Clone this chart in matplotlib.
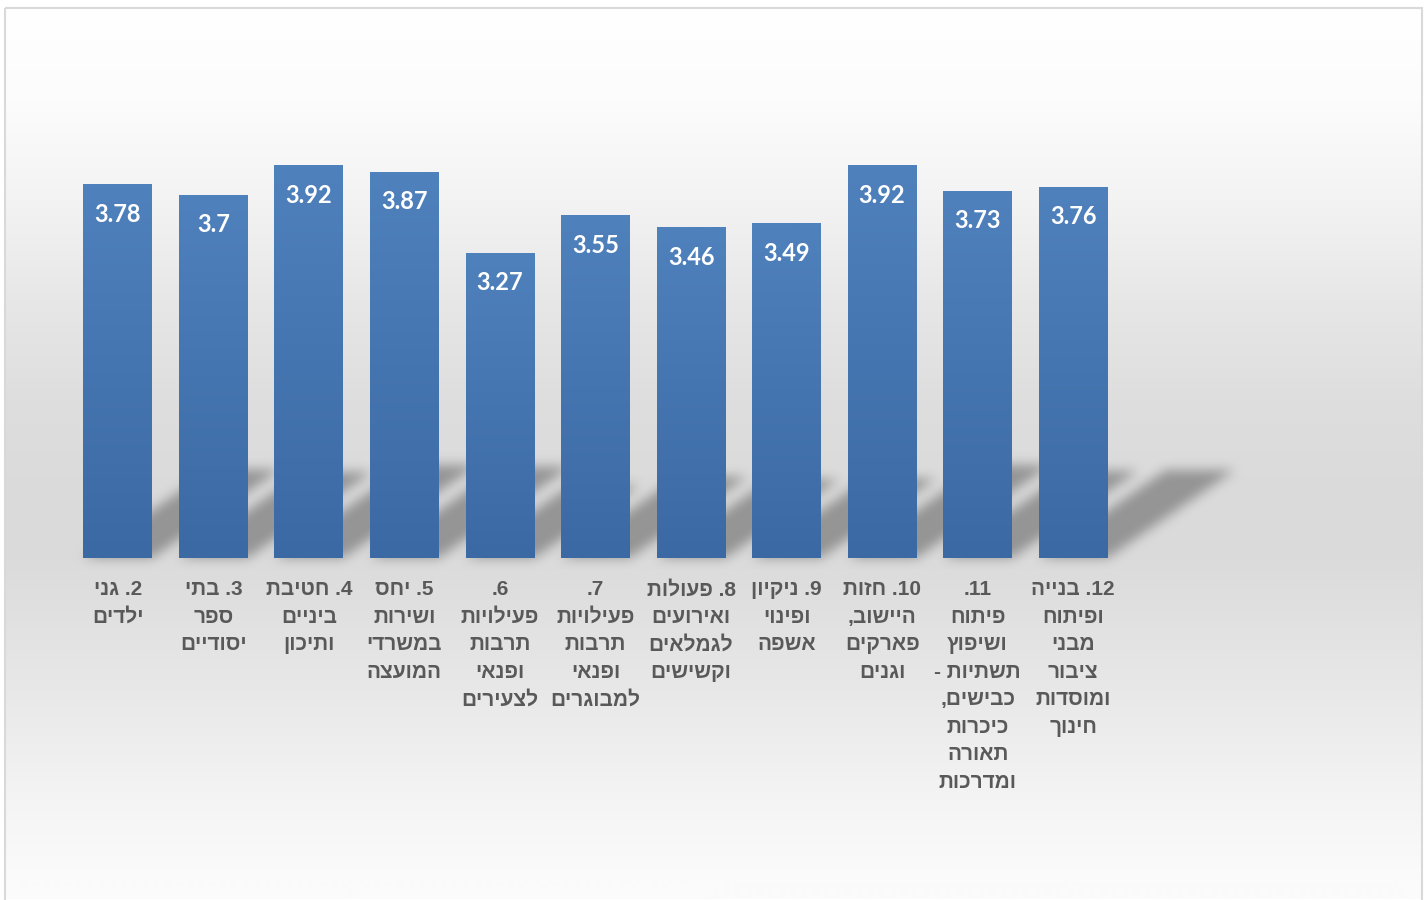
import re
import numpy as np
import matplotlib
matplotlib.use("Agg")
import matplotlib.pyplot as plt
from matplotlib.patches import Polygon, Rectangle
from matplotlib.collections import PatchCollection

# data
categories = [
    "2. גני\nילדים",
    "3. בתי\nספר\nיסודיים",
    "4. חטיבת\nביניים\nותיכון",
    "5. יחס\nושירות\nבמשרדי\nהמועצה",
    "6.\nפעילויות\nתרבות\nופנאי\nלצעירים",
    "7.\nפעילויות\nתרבות\nופנאי\nלמבוגרים",
    "8. פעולות\nואירועים\nלגמלאים\nוקשישים",
    "9. ניקיון\nופינוי\nאשפה",
    "10. חזות\nהיישוב,\nפארקים\nוגנים",
    "11.\nפיתוח\nושיפוץ\nתשתיות -\nכבישים,\nכיכרות\nתאורה\nומדרכות",
    "12. בנייה\nופיתוח\nמבני\nציבור\nומוסדות\nחינוך",
]
values = [3.78, 3.7, 3.92, 3.87, 3.27, 3.55, 3.46, 3.49, 3.92, 3.73, 3.76]

W, H = 1427, 900
HEB = ["Liberation Sans", "DejaVu Sans"]


def visual(line):
    # matplotlib has no bidi: flip the line, keep numbers readable
    return re.sub(r"\d+", lambda m: m.group(0)[::-1], line[::-1])


def blur_alpha(im, dpi):
    pad = 18
    a = np.pad(im, [(pad, pad), (pad, pad), (0, 0)], "constant")
    alpha = a[:, :, 3]
    k = 11
    for _ in range(3):
        c = np.cumsum(np.pad(alpha, [(k // 2 + 1, k // 2), (0, 0)], "edge"), axis=0)
        alpha = (c[k:] - c[:-k]) / k
        c = np.cumsum(np.pad(alpha, [(0, 0), (k // 2 + 1, k // 2)], "edge"), axis=1)
        alpha = (c[:, k:] - c[:, :-k]) / k
    out = np.zeros_like(a)
    out[:, :, 0:3] = 0.40
    out[:, :, 3] = alpha * 0.6
    return out, -pad, -pad


fig = plt.figure(figsize=(W / 100, H / 100), dpi=100)

# background gradient and frame
bg = fig.add_axes([0, 0, 1, 1], zorder=-10)
bg.set_xlim(0, W)
bg.set_ylim(H, 0)
bg.axis("off")
ys = np.arange(8, 900)
lv = np.interp(ys, [8, 100, 200, 300, 400, 500, 560, 600, 700, 800, 880],
               [255, 252, 243, 231, 222, 218, 219, 223, 233, 244, 251]) / 255
grad = np.repeat(lv[:, None], 3, axis=1)[:, None, :]
bg.imshow(grad, extent=(5, 1422, 899, 8), aspect="auto", interpolation="bilinear")
bg.add_patch(Rectangle((5, 8), 1417, 895, fill=False, edgecolor="#d9d9d9", lw=1.5))

ax = fig.add_axes([70 / W, 1 - 558 / H, (1121 - 70) / W, (558 - 20) / H])
ax.patch.set_alpha(0)
ax.axis("off")

x = np.arange(len(values))
bw = 0.72
bars = ax.bar(x, values, width=bw, color="#4a7ab5", zorder=3)

# bar gradients
bar_grad = np.linspace(0, 1, 64)[:, None]
top_c = np.array([79, 129, 189]) / 255
bot_c = np.array([59, 105, 163]) / 255
bar_img = (top_c + (bot_c - top_c) * bar_grad)[:, None, :]
for xi, v, b in zip(x, values, bars):
    im = ax.imshow(bar_img, extent=(xi - bw / 2, xi + bw / 2, 1, v),
                   aspect="auto", zorder=3.1, interpolation="bilinear")
    im.set_clip_path(b)

# perspective shadows
shadows = []
for xi, v in zip(x, values):
    h = v - 1
    dx = 0.482 * h
    dy = 0.237 * h
    shadows.append(Polygon([(xi - bw / 2, 1), (xi + bw / 2, 1),
                            (xi + bw / 2 + dx, 1 + dy), (xi - bw / 2 + dx, 1 + dy)]))
pc = PatchCollection(shadows, facecolor="#6b6b6b", edgecolor="none", zorder=2)
pc.set_clip_on(False)
pc.set_agg_filter(blur_alpha)
pc.set_rasterized(True)
ax.add_collection(pc)

# value labels
for xi, v in zip(x, values):
    ax.annotate(f"{v:g}", xy=(xi, v), xytext=(0, -27), textcoords="offset points",
                ha="center", va="baseline", color="white", fontsize=17,
                fontweight="bold", family=["Lato", "DejaVu Sans"], zorder=5)

# category labels
for xi, lab in zip(x, categories):
    for j, line in enumerate(lab.split("\n")):
        ax.annotate(visual(line), xy=(xi, 1), xytext=(0, -26.8 - j * 19.8),
                    textcoords="offset points", ha="center", va="baseline",
                    color="#595959", fontsize=15, fontweight="bold", family=HEB,
                    annotation_clip=False)

ax.set_xlim(-0.5, 10.5)
ax.set_ylim(1, 5)

fig.savefig("out.png", dpi=100)
